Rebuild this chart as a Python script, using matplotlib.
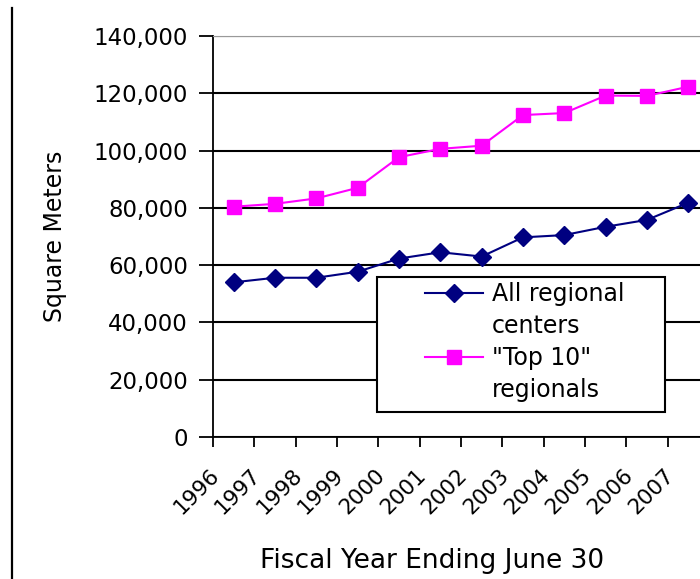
import matplotlib
matplotlib.use("Agg")
import matplotlib.pyplot as plt
from matplotlib.lines import Line2D
from matplotlib.patches import Rectangle
import numpy as np

years = ["1996", "1997", "1998", "1999", "2000", "2001", "2002", "2003",
         "2004", "2005", "2006", "2007"]
all_centers = [54000, 55600, 55600, 57700, 62300, 64500, 63000, 69700,
               70500, 73400, 75800, 81800]
top10 = [80400, 81400, 83300, 87000, 97700, 100600, 101700, 112400,
         113100, 119200, 119100, 122300]

plt.rcParams['font.family'] = ['DejaVu Sans']

fig = plt.figure(figsize=(7, 5.79), dpi=100)
ax = fig.add_axes([213/700, 1-437/579, 496/700, 401/579])

x = np.arange(len(years))
l1, = ax.plot(x, all_centers, color="#000080", marker="D", markersize=9,
              lw=1.5)
l2, = ax.plot(x, top10, color="#ff00ff", marker="s", markersize=9.5, lw=1.5)

ax.set_xlim(-0.5, len(years) - 0.5)
ax.set_ylim(0, 140000)
ax.set_yticks(np.arange(0, 140001, 20000))
ax.set_yticklabels([f"{v:,}" for v in range(0, 140001, 20000)], fontsize=16.5)
ax.yaxis.grid(True, color="black", lw=1.5)
ax.set_axisbelow(True)

# ticks at category boundaries, labels hang left of each category centre
ax.set_xticks(np.arange(-0.5, len(years), 1.0))
ax.set_xticklabels([])
ax.set_xticks(x - 0.25, minor=True)
ax.set_xticklabels(years, minor=True, rotation=45, ha="right", va="top",
                   fontsize=15.5)
ax.tick_params(axis="x", which="minor", length=0, pad=20)
ax.tick_params(axis="x", which="major", length=7, width=1.3, direction="out")
ax.tick_params(axis="y", length=10, width=1.3, direction="out", pad=8)

ax.spines["right"].set_visible(False)
ax.spines["top"].set_color("#999999")
ax.spines["left"].set_linewidth(1.3)
ax.spines["bottom"].set_linewidth(1.3)

ax.set_ylabel("Square Meters", fontsize=17)
ax.yaxis.set_label_coords((67-213)/496, 0.5)
ax.set_xlabel("Fiscal Year Ending June 30", fontsize=19, va="top")
ax.xaxis.set_label_coords((432-213)/496, (437-548)/401)

# legend box
ax.add_patch(Rectangle(((377-213)/496, (437-412)/401), 288/496, 135/401,
                       transform=ax.transAxes, facecolor="white",
                       edgecolor="black", lw=1.5, zorder=4))
blank = Line2D([], [], color="none")
leg = ax.legend([l1, blank, l2, blank],
                ["All regional", "centers", "\"Top 10\"", "regionals"],
                loc="upper left",
                bbox_to_anchor=((425-213)/496, (437-282)/401),
                fontsize=17, frameon=False, handlelength=2.46,
                handletextpad=0.38, labelspacing=0.34, borderpad=0,
                borderaxespad=0)
leg.set_zorder(5)

fig.add_artist(Line2D([12/700, 12/700], [0, 1-8/579], color="black", lw=1.6))

fig.savefig("out.png", dpi=100)
